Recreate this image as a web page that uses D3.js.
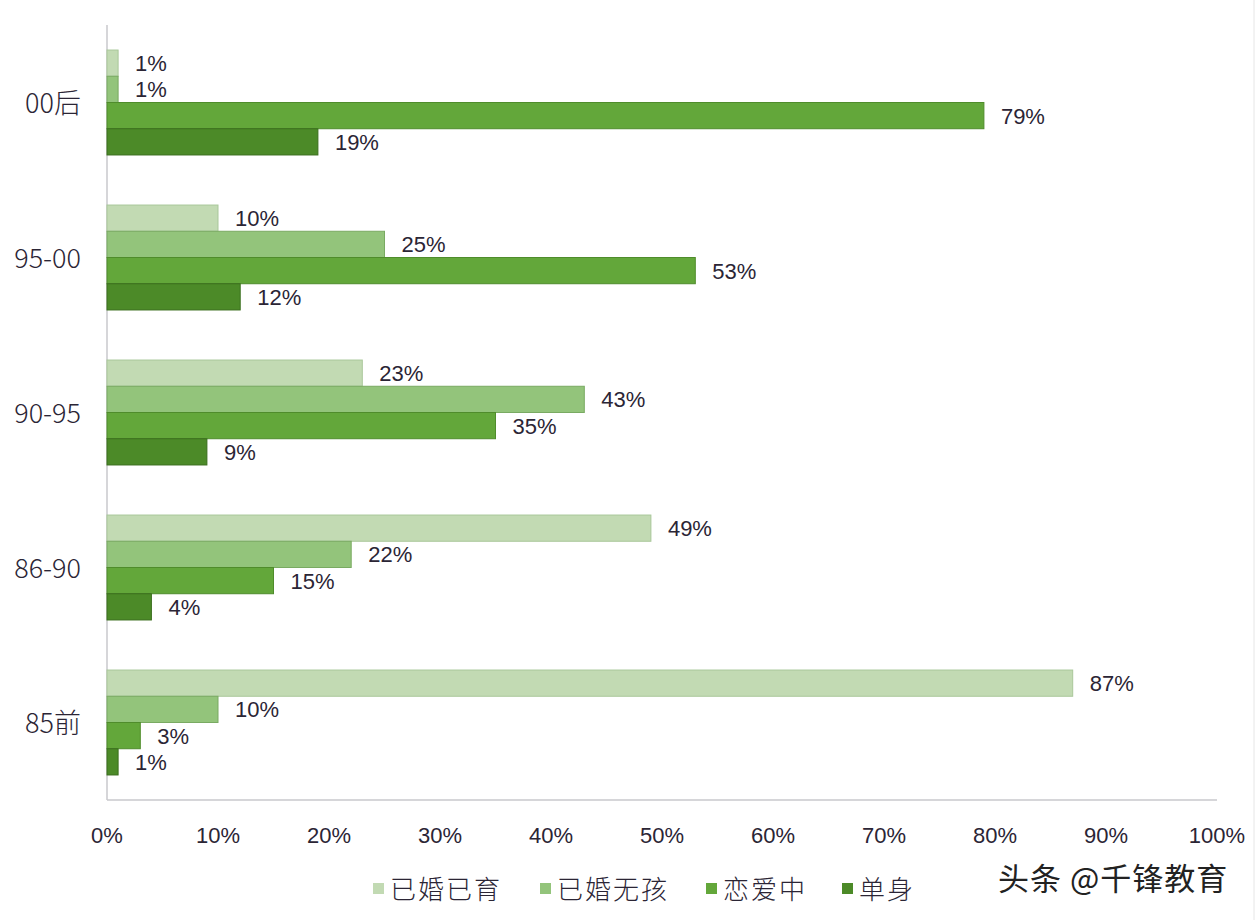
<!DOCTYPE html>
<html>
<head>
<meta charset="utf-8">
<script src="https://cdn.jsdelivr.net/npm/d3@7"></script>
<style>
  body { margin: 0; background: #fff; }
  text { font-family: "Liberation Sans", "Noto Sans CJK SC", sans-serif; }
</style>
</head>
<body>
<div id="chart"></div>
<script>
// data
var categories = ["00后", "95-00", "90-95", "86-90", "85前"];
var seriesNames = ["已婚已育", "已婚无孩", "恋爱中", "单身"];
var marriedWithKids = [1, 10, 23, 49, 87];
var marriedNoKids = [1, 25, 43, 22, 10];
var inLove = [79, 53, 35, 15, 3];
var single = [19, 12, 9, 4, 1];
var xTicks = [0, 10, 20, 30, 40, 50, 60, 70, 80, 90, 100];
var colors = ["#c2dab3", "#93c47b", "#63a73a", "#4c8a28"];
var strokes = ["#a9c79a", "#79aa62", "#4f8c2b", "#3a6e1d"];

var series = [marriedWithKids, marriedNoKids, inLove, single];

var w = 1256, h = 920;
var svg = d3.select("#chart").append("svg").attr("width", w).attr("height", h);

var x = d3.scaleLinear().domain([0, 100]).range([107, 1217]);
var y = d3.scaleBand().domain(categories).range([25, 800]).paddingInner(0.323).paddingOuter(0.1615);
var ySub = d3.scaleBand().domain(d3.range(seriesNames.length)).range([0, y.bandwidth()]);

// axes lines
svg.append("line").attr("x1", x(0)).attr("x2", x(0)).attr("y1", 25).attr("y2", 800)
  .style("stroke", "#c8c8cc").style("stroke-width", 1.5);
svg.append("line").attr("x1", x(0)).attr("x2", x(100)).attr("y1", 800).attr("y2", 800)
  .style("stroke", "#c8c8cc").style("stroke-width", 1.5);

// bars
var groups = svg.selectAll("g.grp").data(categories).enter().append("g")
  .attr("class", "grp").attr("transform", function(d){ return "translate(0," + y(d) + ")"; });

groups.each(function(cat, ci){
  var g = d3.select(this);
  series.forEach(function(vals, si){
    g.append("rect")
      .attr("x", x(0)).attr("y", ySub(si))
      .attr("width", x(vals[ci]) - x(0)).attr("height", ySub.bandwidth())
      .style("fill", colors[si]).style("stroke", strokes[si]).style("stroke-width", 1);
    g.append("text").text(vals[ci] + "%")
      .attr("x", x(vals[ci]) + 17).attr("y", ySub(si) + ySub.bandwidth()/2 + 8)
      .style("fill", "#2b2535").style("font-size", "22px");
  });
});

// category labels
svg.selectAll("text.cat").data(categories).enter().append("text").attr("class", "cat")
  .text(function(d){ return d; })
  .attr("x", 81).attr("y", function(d){ return y(d) + y.bandwidth()/2 + 10; })
  .attr("text-anchor", "end")
  .style("fill", "#2b2535").style("font-size", "27px")
  .style("font-family", "Noto Sans CJK SC").style("font-weight", 300);

// x tick labels
svg.selectAll("text.tick").data(xTicks).enter().append("text").attr("class", "tick")
  .text(function(d){ return d + "%"; })
  .attr("x", function(d){ return x(d); }).attr("y", 843)
  .attr("text-anchor", "middle")
  .style("fill", "#2b2535").style("font-size", "22px");

// legend
var legendX = [373, 540, 706, 842];
var legend = svg.selectAll("g.leg").data(seriesNames).enter().append("g").attr("class", "leg")
  .attr("transform", function(d, i){ return "translate(" + legendX[i] + ",889)"; });
legend.append("rect").attr("x", 0).attr("y", -6).attr("width", 11).attr("height", 11)
  .style("fill", function(d, i){ return colors[i]; });
legend.append("text").text(function(d){ return d; })
  .attr("x", 17).attr("y", 10)
  .style("fill", "#2b2535").style("font-size", "26px").style("font-family", "Noto Sans CJK SC")
  .style("font-weight", 300).style("letter-spacing", "2px");

// watermark
svg.append("text").text("头条 @千锋教育")
  .attr("x", 998).attr("y", 890)
  .style("fill", "#222").style("font-size", "31px").style("font-family", "Noto Sans CJK SC")
  .style("letter-spacing", "1px")
  .style("stroke", "#fff").style("stroke-width", 3).style("paint-order", "stroke");

// right edge border
svg.append("line").attr("x1", w - 2).attr("x2", w - 2).attr("y1", 0).attr("y2", h)
  .style("stroke", "#e6e6e6").style("stroke-width", 1);
</script>
</body>
</html>
